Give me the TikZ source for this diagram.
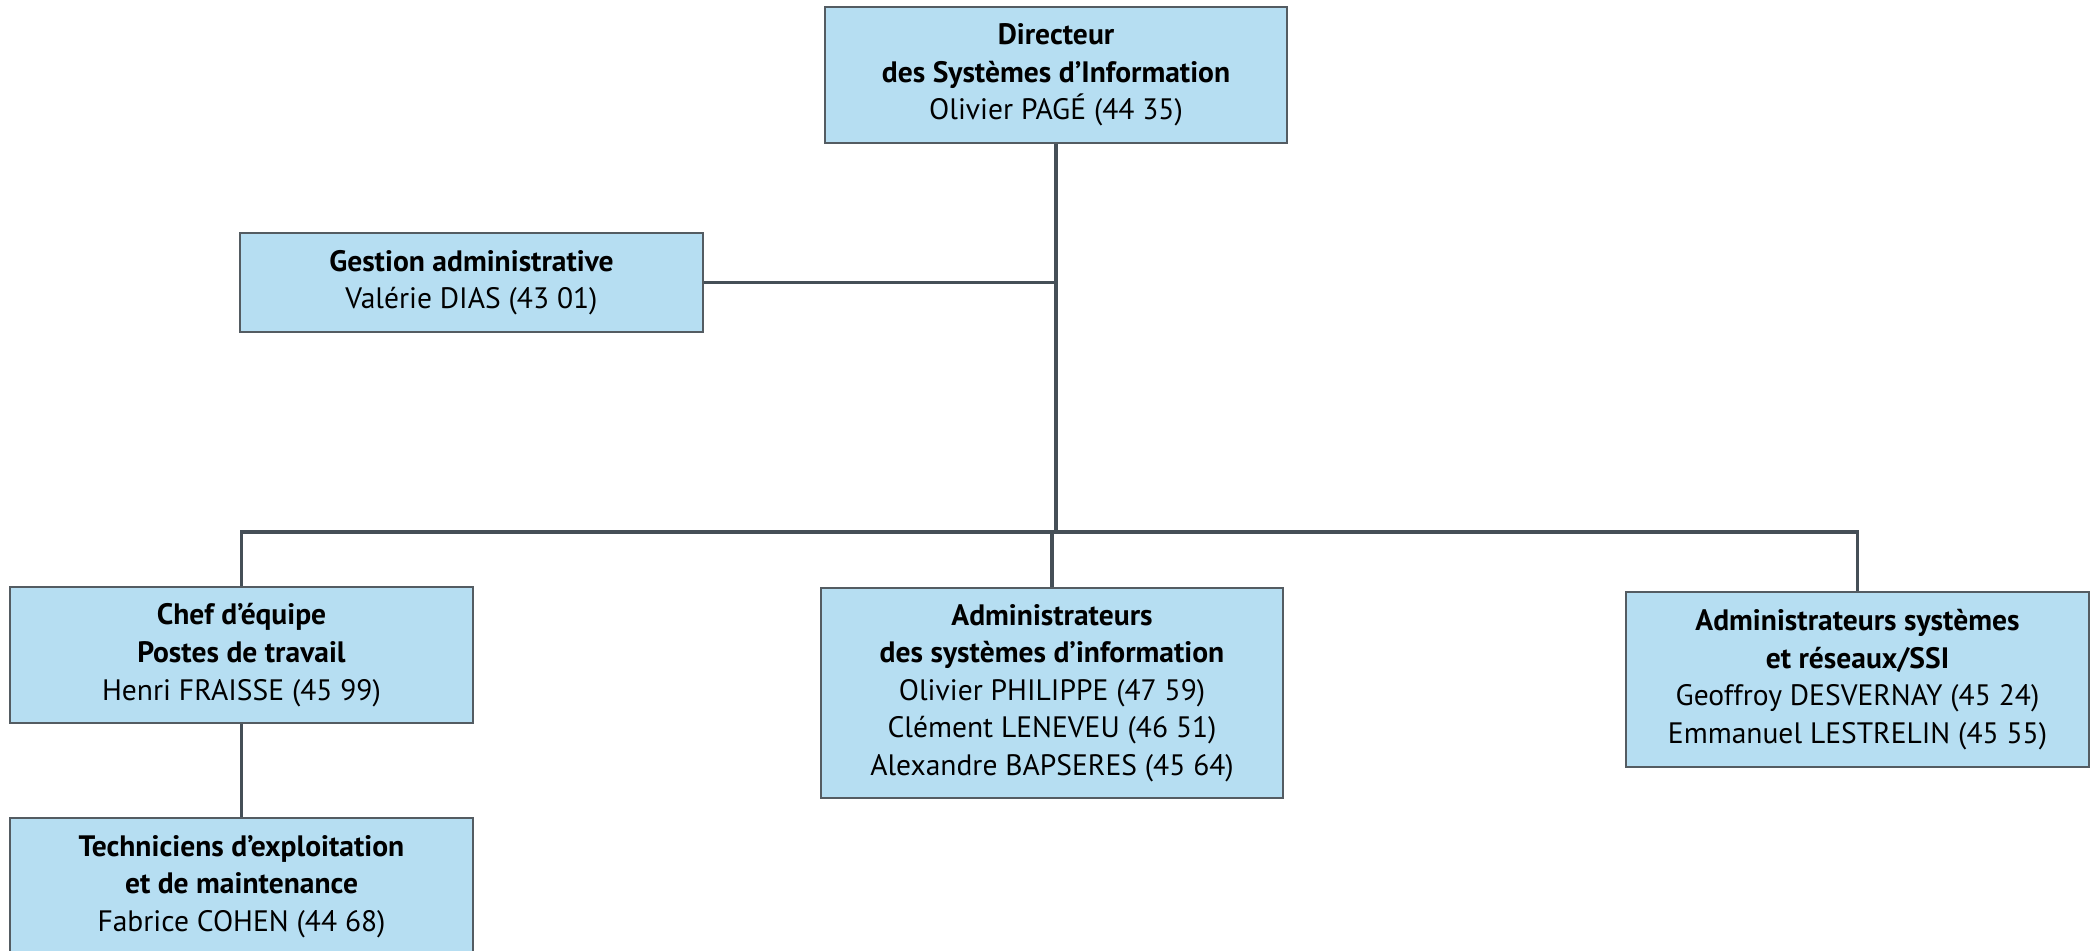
\documentclass[tikz,border=0pt]{standalone}
\usepackage{fontspec}
\setmainfont{PT Sans}
\usepackage{tikz}
\definecolor{boxfill}{RGB}{182,222,242}
\definecolor{boxline}{RGB}{84,92,98}
\definecolor{linkgray}{RGB}{69,79,87}

\begin{document}
\begin{tikzpicture}[x=0.01cm,y=-0.01cm,
                    unit/.style={rectangle,draw=boxline,fill=boxfill,line width=0.6pt,
                      minimum width=4.62cm,align=center,font=\fontsize{8.4}{10.7}\selectfont},
                    link/.style={draw=linkgray,line width=1.1pt}]
  \clip (0,0) rectangle (2093,950);

  \node[unit, minimum height=1.36cm] (dsi) at (1056,75)
    {\textbf{Directeur}\\\textbf{des Systèmes d’Information}\\Olivier PAGÉ (44 35)};
  \node[unit, minimum height=0.99cm] (gestion) at (471.5,282.5)
    {\textbf{Gestion administrative}\\Valérie DIAS (43 01)};
  \node[unit, minimum height=1.36cm] (chef) at (241.5,655)
    {\textbf{Chef d’équipe}\\\textbf{Postes de travail}\\Henri FRAISSE (45 99)};
  \node[unit, minimum height=2.10cm] (admin) at (1052,693)
    {\textbf{Administrateurs}\\\textbf{des systèmes d’information}\\Olivier PHILIPPE (47 59)\\Clément LENEVEU (46 51)\\Alexandre BAPSERES (45 64)};
  \node[unit, minimum height=1.75cm] (reseaux) at (1857.5,679.5)
    {\textbf{Administrateurs systèmes}\\\textbf{et réseaux/SSI}\\Geoffroy DESVERNAY (45 24)\\Emmanuel LESTRELIN (45 55)};
  \node[unit, minimum height=1.37cm] (techn) at (241.5,886.5)
    {\textbf{Techniciens d’exploitation}\\\textbf{et de maintenance}\\Fabrice COHEN (44 68)};

  \coordinate (bus) at (1056,532);
  \path[link]
    (dsi.south) edge (bus)
    (gestion.east) edge (gestion.east -| dsi.south)
    (admin.north) edge (admin.north |- bus)
    (chef.south) edge (techn.north);
  \draw[link] (chef.north) |- (bus) -| (reseaux.north);
\end{tikzpicture}
\end{document}
